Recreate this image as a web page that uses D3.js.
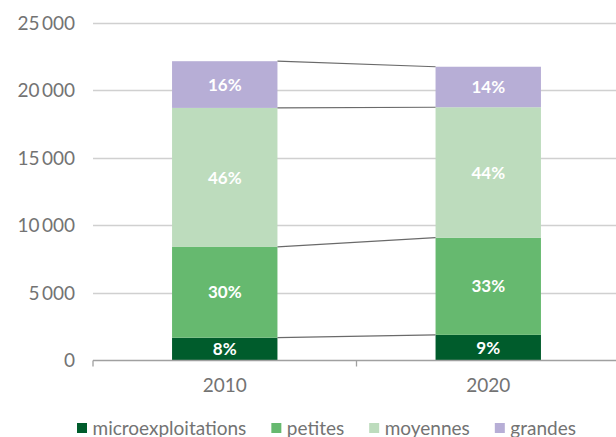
<!DOCTYPE html>
<html><head><meta charset="utf-8">
<script src="https://cdn.jsdelivr.net/npm/d3@7"></script>
<style>
html,body{margin:0;padding:0;background:#fff;}
svg{display:block;font-family:Lato, "Open Sans", sans-serif;}
</style></head>
<body>
<svg id="chart" width="616" height="437"></svg>
<script>
const years = ["2010", "2020"];
const seriesNames = ["microexploitations", "petites", "moyennes", "grandes"];
const micro = [1690, 1900];
const petites = [6720, 7200];
const moyennes = [10300, 9660];
const grandes = [3460, 3000];
const pctLabels = [["8%", "9%"], ["30%", "33%"], ["46%", "44%"], ["16%", "14%"]];
const yTicks = [0, 5000, 10000, 15000, 20000, 25000];
const colors = ["#005c2c", "#66b96f", "#bddcbd", "#b7aed6"];

const values = [micro, petites, moyennes, grandes];
const table = years.map((y, i) => {
  const row = {year: y};
  seriesNames.forEach((s, k) => row[s] = values[k][i]);
  return row;
});
const stacked = d3.stack().keys(seriesNames)(table);

const svg = d3.select("#chart");
const m = {left: 93, right: 620, top: 23, bottom: 360.5};
const x = d3.scaleBand().domain(years).range([m.left, m.right]).padding(0);
const y = d3.scaleLinear().domain([0, 25000]).range([m.bottom, m.top]);
const barW = x.bandwidth() * 0.4;
const barX = d => x(d) + (x.bandwidth() - barW) / 2;

const fmt = v => d3.format(",")(v).replace(/,/g, "\u2009");
const txtCol = "#737373";

// gridlines
svg.append("g").selectAll("line").data(yTicks.filter(t => t > 0)).join("line")
  .attr("x1", m.left).attr("x2", 616)
  .attr("y1", d => Math.round(y(d)) + 0.5).attr("y2", d => Math.round(y(d)) + 0.5)
  .attr("stroke", "#d0d0d0").attr("stroke-width", 1.3);

// y tick labels
svg.append("g").selectAll("text").data(yTicks).join("text")
  .attr("x", 75).attr("y", d => y(d)).attr("dy", "0.35em")
  .attr("text-anchor", "end").attr("fill", txtCol)
  .style("font-size", "19px").text(fmt);

// bars
const groups = svg.append("g").selectAll("g").data(stacked).join("g")
  .attr("fill", (d, i) => colors[i]);
groups.selectAll("rect").data(d => d).join("rect")
  .attr("x", d => barX(d.data.year)).attr("width", barW)
  .attr("y", d => y(d[1])).attr("height", d => y(d[0]) - y(d[1]));

// connector lines
svg.append("g").selectAll("line").data(stacked).join("line")
  .attr("x1", barX(years[0]) + barW).attr("x2", barX(years[1]))
  .attr("y1", d => y(d[0][1])).attr("y2", d => y(d[1][1]))
  .attr("stroke", "#6a6a6a").attr("stroke-width", 1.2);

// value labels
stacked.forEach((s, k) => {
  svg.append("g").selectAll("text").data(s).join("text")
    .attr("x", d => barX(d.data.year) + barW / 2)
    .attr("y", d => (y(d[0]) + y(d[1])) / 2).attr("dy", "0.36em")
    .attr("text-anchor", "middle").attr("fill", "#ffffff")
    .style("font-size", "17px").style("font-weight", "bold")
    .text((d, i) => pctLabels[k][i]);
});

// x axis
const xAxis = d3.axisBottom(x).tickSize(0).tickPadding(0);
const ax = svg.append("g").attr("transform", `translate(0,${m.bottom})`).call(xAxis);
ax.select(".domain").remove();
ax.selectAll("text").attr("fill", txtCol).style("font-size", "19px")
  .style("font-family", "Lato").attr("y", 25).attr("dy", "0.35em");
svg.append("line").attr("x1", m.left).attr("x2", 616)
  .attr("y1", m.bottom).attr("y2", m.bottom)
  .attr("stroke", "#a0a0a0").attr("stroke-width", 1.3);
svg.append("g").selectAll("line").data(years).join("line")
  .attr("x1", d => x(d)).attr("x2", d => x(d))
  .attr("y1", m.bottom).attr("y2", m.bottom + 6)
  .attr("stroke", "#a0a0a0").attr("stroke-width", 1.3);

// legend
const leg = svg.append("g").selectAll("g").data(seriesNames).join("g");
let cx = 77;
leg.each(function(d, i) {
  const g = d3.select(this);
  g.append("rect").attr("x", 0).attr("y", -5).attr("width", 10).attr("height", 10).attr("fill", colors[i]);
  const t = g.append("text").attr("x", 15.5).attr("y", 0).attr("dy", "0.35em")
    .attr("fill", txtCol).style("font-size", "19px").text(d);
  g.attr("transform", `translate(${cx},428)`);
  cx += 15.5 + t.node().getComputedTextLength() + 25;
});
</script>
</body></html>
